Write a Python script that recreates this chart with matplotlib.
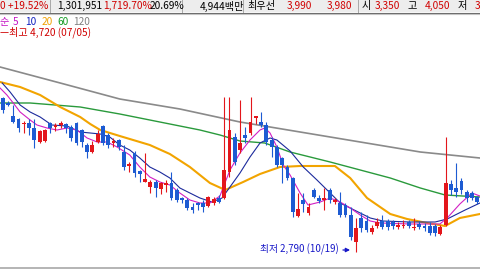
import numpy as np
import matplotlib
matplotlib.use("Agg")
import matplotlib.pyplot as plt
from matplotlib.patches import Rectangle
from matplotlib.lines import Line2D

plt.rcParams['font.family'] = ['Noto Sans CJK KR', 'DejaVu Sans']

# daily candles, oldest first
opens = [4330, 4280, 4150, 4120, 4070, 4080, 4030, 3890, 3900, 4080,
         4040, 4060, 4070, 4040, 4080, 4010, 3860, 3790, 3890, 4050,
         3960, 3880, 3910, 3790, 3650, 3780, 3600, 3490, 3440, 3490,
         3420, 3460, 3480, 3410, 3330, 3310, 3240, 3280, 3280, 3250,
         3280, 3330, 3330, 3590, 3940, 3810, 3960, 3980, 4130, 4090,
         4060, 3910, 3840, 3730, 3640, 3530, 3150, 3310, 3180, 3410,
         3330, 3310, 3410, 3290, 3280, 3260, 3160, 2890, 3130, 3100,
         2990, 3050, 3100, 3100, 3090, 3040, 3050, 3090, 3030, 3070,
         3050, 3050, 3050, 2970, 3060, 3470, 3430, 3500, 3390, 3380,
         3340]
highs = [4340, 4300, 4260, 4130, 4100, 4120, 4120, 4010, 4020, 4090,
         4080, 4100, 4080, 4060, 4090, 4020, 3880, 3900, 4010, 4060,
         3980, 3930, 3920, 3860, 3690, 3800, 3610, 3780, 3510, 3510,
         3490, 3510, 3590, 3430, 3340, 3330, 3280, 3290, 3310, 3350,
         3340, 3360, 4340, 4340, 3980, 4310, 4040, 4340, 4150, 4190,
         4090, 3940, 3860, 3740, 3660, 3540, 3380, 3380, 3280, 3430,
         3360, 3430, 3430, 3330, 3390, 3280, 3240, 3130, 3190, 3160,
         3060, 3130, 3160, 3120, 3110, 3090, 3110, 3110, 3130, 3100,
         3080, 3090, 3070, 3060, 3940, 3510, 3680, 3530, 3410, 3400,
         3350]
lows = [4180, 4250, 4080, 3990, 3980, 3960, 3830, 3880, 3890, 3980,
        4000, 4030, 3980, 3900, 3860, 3840, 3730, 3780, 3880, 3860,
        3830, 3840, 3810, 3610, 3590, 3540, 3490, 3490, 3380, 3340,
        3370, 3390, 3310, 3290, 3280, 3210, 3180, 3210, 3190, 3240,
        3260, 3280, 3320, 3540, 3660, 3780, 3880, 3960, 4070, 4040,
        3860, 3740, 3640, 3480, 3510, 3140, 3140, 3190, 3160, 3330,
        3280, 3210, 3280, 3270, 3140, 3140, 2910, 2790, 2990, 2990,
        2970, 3030, 3020, 3010, 3020, 3020, 3030, 3030, 3010, 3020,
        3000, 2960, 2950, 2960, 3050, 3360, 3340, 3370, 3290, 3310,
        3270]
closes = [4210, 4260, 4090, 4030, 4080, 4030, 3910, 4000, 4010, 4030,
          4060, 4080, 4030, 3930, 3880, 3890, 3790, 3860, 3970, 3880,
          3860, 3900, 3840, 3640, 3670, 3580, 3570, 3520, 3490, 3430,
          3480, 3480, 3330, 3310, 3310, 3230, 3210, 3260, 3240, 3340,
          3320, 3290, 3610, 4010, 3690, 3880, 3930, 4090, 4150, 4060,
          3890, 3840, 3660, 3660, 3530, 3190, 3220, 3270, 3240, 3340,
          3300, 3330, 3310, 3310, 3160, 3160, 2940, 3030, 3030, 3010,
          3030, 3090, 3040, 3040, 3050, 3060, 3060, 3050, 3040, 3040,
          3030, 2980, 2980, 3040, 3480, 3410, 3390, 3410, 3330, 3330,
          3290]

# moving averages as (candle index, price) points
ma5_x = [-0.5, 0.8, 2.0, 3.3, 5.2, 6.5, 8.4, 10.3, 12.2, 14.1, 16.0, 17.9, 19.8, 21.7,
         24.1, 26.0, 27.9, 29.8, 31.7, 33.6, 35.5, 37.4, 39.3, 41.2, 43.1, 45.0, 46.9,
         48.8, 49.7, 50.7, 52.0, 53.2, 54.5, 56.4, 57.9, 60.2, 62.1, 64.0, 65.9, 67.8,
         69.7, 71.6, 77.2, 82.9, 84.3, 86.7, 89.0, 90.5]
ma5_y = [4430, 4360, 4280, 4190, 4110, 4060, 4030, 4010, 4030, 4010, 3930, 3890, 3890, 3840,
         3760, 3640, 3540, 3490, 3460, 3380, 3310, 3280, 3280, 3350, 3610, 3780, 3910,
         4010, 4030, 3980, 3840, 3660, 3560, 3380, 3260, 3290, 3330, 3290, 3230, 3160,
         3100, 3080, 3070, 3070, 3130, 3270, 3380, 3350]
ma10_x = [-0.1, 1.4, 3.3, 5.2, 7.1, 9.3, 12.2, 14.7, 18.5, 20.3, 22.2, 24.1, 26.0, 27.9,
          29.8, 31.7, 33.6, 35.5, 37.4, 39.7, 41.6, 43.1, 45.0, 46.9, 48.8, 50.7, 52.0,
          54.5, 57.0, 59.6, 62.1, 64.0, 65.9, 67.8, 69.7, 72.1, 77.2, 82.0, 84.3, 87.7, 90.5]
ma10_y = [4480, 4390, 4260, 4190, 4140, 4060, 4050, 3990, 3970, 3940, 3860, 3810, 3730, 3640,
          3590, 3530, 3430, 3380, 3330, 3290, 3330, 3440, 3580, 3740, 3880, 3930, 3910,
          3800, 3640, 3510, 3380, 3280, 3230, 3180, 3130, 3100, 3090, 3090, 3120, 3210, 3280]
ma20_x = [-0.5, 3.3, 7.1, 10.9, 14.7, 16.6, 18.5, 22.2, 27.9, 31.7, 35.5, 39.3, 42.2,
          45.6, 48.8, 52.6, 56.4, 63.0, 65.9, 69.1, 73.5, 76.7, 80.5, 83.9, 86.7, 90.5]
ma20_y = [4490, 4440, 4360, 4240, 4140, 4070, 4010, 3950, 3860, 3770, 3640, 3480, 3410,
          3490, 3570, 3640, 3650, 3650, 3530, 3330, 3170, 3120, 3080, 3050, 3130, 3170]
ma60_x = [-0.5, 5.2, 14.7, 22.2, 29.8, 37.4, 41.2, 45.0, 49.7, 54.5, 62.1, 67.8, 73.5,
          79.2, 83.9, 90.5]
ma60_y = [4280, 4280, 4240, 4170, 4090, 4010, 3960, 3900, 3880, 3790, 3690, 3610, 3530,
          3430, 3360, 3340]
ma120_x = [-0.5, 10.9, 22.2, 33.6, 45.0, 56.4, 67.8, 79.2, 90.5]
ma120_y = [4640, 4480, 4320, 4220, 4090, 3990, 3890, 3790, 3730]

RED = '#e3161b'
BLUE = '#1d5bd2'
HRED = '#d00000'

W, H = 480, 270
fig = plt.figure(figsize=(4.8, 2.7), dpi=100)
ax = fig.add_axes([0, 0, 1, 1])
ax.axis('off')
ax.set_xlim(-0.512, 90.52)
ax.set_ylim(2610, 5310)

# moving average lines
ax.plot(ma120_x, ma120_y, color='#8a8a8a', lw=1.2, zorder=2)
ax.plot(ma60_x, ma60_y, color='#2a9a3c', lw=1.0, zorder=2)
ax.plot(ma20_x, ma20_y, color='#f2a400', lw=1.5, zorder=2)
ax.plot(ma10_x, ma10_y, color='#1c2a9c', lw=0.8, zorder=2)
ax.plot(ma5_x, ma5_y, color='#d21fc4', lw=0.8, zorder=2)

# candles
o = np.array(opens)
c = np.array(closes)
idx = np.arange(len(o))
cols = np.where(c >= o, RED, BLUE)
ax.vlines(idx, lows, highs, colors=cols, lw=0.8, zorder=3)
ax.bar(idx, np.maximum(np.abs(c - o), 8), bottom=np.minimum(o, c), width=0.72,
       color=cols, linewidth=0, zorder=4)

# lowest price marker
lo_i = int(np.argmin(lows))
ax.annotate('', xy=(lo_i - 0.6, lows[lo_i] + 20), xytext=(lo_i - 3.0, lows[lo_i] + 20),
            arrowprops=dict(arrowstyle='-|>', color='#1818c8', lw=0.9, mutation_scale=6),
            zorder=6)
ax.text(lo_i - 3.3, lows[lo_i] + 30, f'최저 {lows[lo_i]:,} (10/19)', color='#1818c8',
        fontsize=7, ha='right', va='center', zorder=6)


def fx(x):
    return x / W


def fy(y):
    return 1 - y / H


# header bar
fig.add_artist(Rectangle((0, fy(12)), 1, 12 / H, transform=fig.transFigure,
                         facecolor='#ededed', edgecolor='none', zorder=5))
fig.add_artist(Line2D([0, 1], [fy(12.5)] * 2, transform=fig.transFigure, color='#6a6a6a', lw=0.8, zorder=6))
fig.add_artist(Line2D([0, 1], [fy(13.5)] * 2, transform=fig.transFigure, color='#c4c4c4', lw=0.8, zorder=6))
for sx in [50, 182, 243, 358]:
    fig.add_artist(Line2D([fx(sx)] * 2, [fy(0), fy(12)], transform=fig.transFigure,
                          color='#a8a8a8', lw=0.7, zorder=6))

header = [(0, '0 +19.52%', HRED), (57, '1,301,951', 'black'), (103, '1,719.70%', HRED),
          (150, '20.69%', 'black'), (200, '4,944백만', 'black'), (247, '최우선', 'black'),
          (287, '3,990', HRED), (327, '3,980', HRED), (362, '시', 'black'),
          (375, '3,350', HRED), (408, '고', 'black'), (425, '4,050', HRED),
          (458, '저', 'black'), (475, '3', HRED)]
for x, t, col in header:
    fig.text(fx(x), fy(6), t, color=col, fontsize=7.3, ha='left', va='center', zorder=7)

# moving average legend
legend = [(0, '순', '#c414c4'), (13, '5', '#c414c4'), (25, '10', '#1020c0'),
          (42, '20', '#f0a000'), (57, '60', '#109a20'), (73, '120', '#808080')]
for x, t, col in legend:
    fig.text(fx(x), fy(22), t, color=col, fontsize=7.3, ha='left', va='center', zorder=7)

fig.text(fx(0), fy(32), '—최고 4,720 (07/05)', color=HRED, fontsize=7.3,
         ha='left', va='center', zorder=7)

# bottom border
fig.add_artist(Line2D([0, 1], [fy(267.5)] * 2, transform=fig.transFigure, color='#b4b4b4', lw=1.4, zorder=6))

fig.savefig('out.png', dpi=100)
